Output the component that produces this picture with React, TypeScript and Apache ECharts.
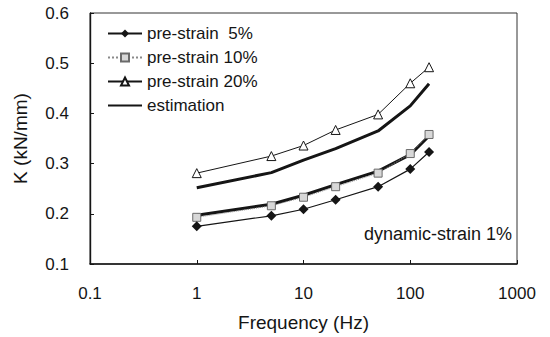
import React, { useEffect, useRef } from "react";
import * as echarts from "echarts";

const freq = [1, 5, 10, 20, 50, 100, 150];
const pre5 = [0.175, 0.196, 0.209, 0.228, 0.254, 0.289, 0.323];
const pre10 = [0.193, 0.216, 0.233, 0.254, 0.281, 0.32, 0.358];
const pre20 = [0.281, 0.315, 0.336, 0.367, 0.398, 0.46, 0.492];
const estUpper = [0.252, 0.282, 0.307, 0.33, 0.365, 0.415, 0.459];
const estLower = [0.197, 0.219, 0.237, 0.258, 0.285, 0.318, 0.355];
const xTicks = ["0.1", "1", "10", "100", "1000"];
const seriesNames = ["pre-strain  5%", "pre-strain 10%", "pre-strain 20%", "estimation"];

const FONT = "'Liberation Sans', Arial, sans-serif";
const INK = "#151515";

const pairs = (ys: number[]) => freq.map((f, i) => [f, ys[i]]);

export default function App() {
  const ref = useRef<HTMLDivElement>(null);
  useEffect(() => {
    document.body.style.margin = "0";
    if (!ref.current) return;
    const chart = echarts.init(ref.current, null, { renderer: "svg" });
    chart.setOption({
      animation: false,
      backgroundColor: "#ffffff",
      grid: {
        left: 90,
        right: 33,
        top: 13,
        bottom: 73,
        show: true,
        borderColor: "#333",
        borderWidth: 1,
      },
      legend: {
        orient: "vertical",
        left: 102,
        top: 20,
        itemWidth: 34,
        itemHeight: 10,
        itemGap: 7,
        data: [
          { name: seriesNames[0] },
          { name: seriesNames[1] },
          { name: seriesNames[2] },
          { name: seriesNames[3], itemStyle: { opacity: 0 } },
        ],
        textStyle: { fontFamily: FONT, fontSize: 17, color: INK },
      },
      xAxis: {
        type: "log",
        logBase: 10,
        min: 0.1,
        max: 1000,
        name: "Frequency (Hz)",
        nameLocation: "middle",
        nameGap: 49,
        nameTextStyle: { fontFamily: FONT, fontSize: 19, color: INK },
        axisLine: { lineStyle: { color: INK, width: 1.6 } },
        axisTick: { inside: true, length: 4, lineStyle: { color: INK } },
        splitLine: { show: false },
        minorTick: { show: false },
        axisLabel: {
          margin: 21,
          fontFamily: FONT,
          fontSize: 17,
          color: INK,
          formatter: (v: number) => {
            const s = String(Number(v.toPrecision(6)));
            return xTicks.includes(s) ? s : "";
          },
        },
      },
      yAxis: {
        type: "value",
        min: 0.1,
        max: 0.6,
        interval: 0.1,
        name: "K (kN/mm)",
        nameLocation: "middle",
        nameGap: 60,
        nameTextStyle: { fontFamily: FONT, fontSize: 19, color: INK },
        axisLine: { show: true, lineStyle: { color: INK, width: 1.4 } },
        axisTick: { show: true, inside: true, length: 4, lineStyle: { color: INK } },
        splitLine: { show: false },
        axisLabel: {
          margin: 21,
          fontFamily: FONT,
          fontSize: 17,
          color: INK,
          formatter: (v: number) => v.toFixed(1),
        },
      },
      graphic: [
        {
          type: "text",
          right: 38,
          top: 225,
          style: {
            text: "dynamic-strain 1%",
            font: `18px ${FONT}`,
            fill: INK,
          },
        },
      ],
      series: [
        {
          name: seriesNames[3],
          type: "line",
          data: pairs(estUpper),
          showSymbol: false,
          symbol: "none",
          lineStyle: { color: INK, width: 3 },
          itemStyle: { color: INK },
          z: 2,
        },
        {
          name: seriesNames[3],
          type: "line",
          data: pairs(estLower),
          showSymbol: false,
          symbol: "none",
          lineStyle: { color: INK, width: 3 },
          itemStyle: { color: INK },
          z: 2,
        },
        {
          name: seriesNames[1],
          type: "line",
          data: pairs(pre10),
          symbol: "rect",
          symbolSize: 8,
          lineStyle: { color: "#8a8a8a", width: 1, type: "dotted" },
          itemStyle: { color: "#d8d8d8", borderColor: "#6a6a6a", borderWidth: 1 },
          z: 3,
        },
        {
          name: seriesNames[0],
          type: "line",
          data: pairs(pre5),
          symbol: "diamond",
          symbolSize: 10,
          lineStyle: { color: INK, width: 1.2 },
          itemStyle: { color: INK },
          z: 3,
        },
        {
          name: seriesNames[2],
          type: "line",
          data: pairs(pre20),
          symbol: "triangle",
          symbolSize: 9,
          lineStyle: { color: INK, width: 1 },
          itemStyle: { color: "#ffffff", borderColor: INK, borderWidth: 1 },
          z: 3,
        },
      ],
    });
    return () => chart.dispose();
  }, []);
  return <div ref={ref} style={{ width: 550, height: 337 }} />;
}
